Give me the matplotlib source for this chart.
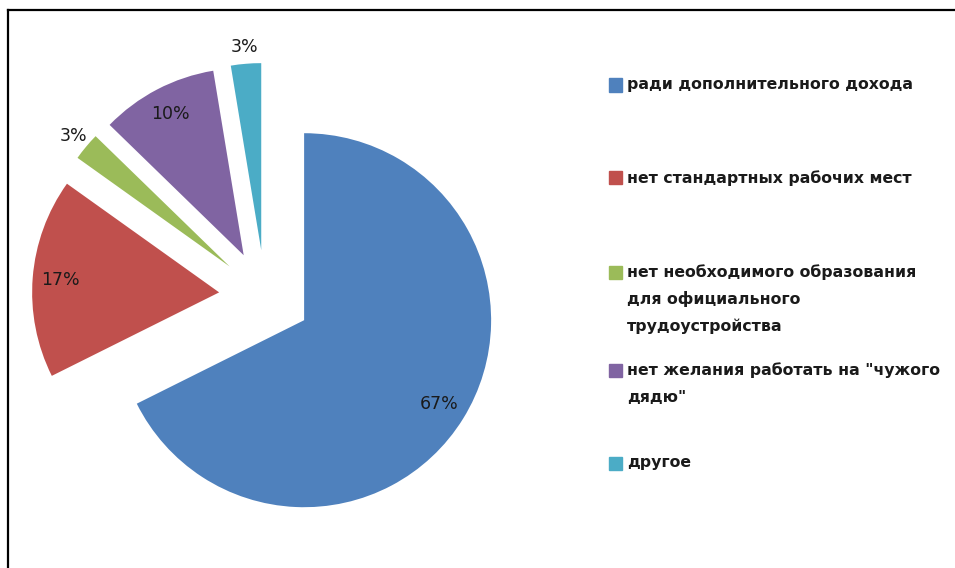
import numpy as np
import matplotlib
matplotlib.use("Agg")
import matplotlib.pyplot as plt
from matplotlib.patches import Rectangle
from matplotlib.lines import Line2D

# доли (оценка по углам секторов)
categories = [
    "ради дополнительного дохода",
    "нет стандартных рабочих мест",
    "нет необходимого образования\nдля официального\nтрудоустройства",
    "нет желания работать на \"чужого\nдядю\"",
    "другое",
]
values = [67.5, 17.2, 2.4, 10.1, 2.6]
pct_labels = ["67%", "17%", "3%", "10%", "3%"]
colors = ["#4F81BD", "#C0504D", "#9BBB59", "#8064A2", "#4BACC6"]

W, H = 955, 568
fig = plt.figure(figsize=(W / 100, H / 100), dpi=100)
ax = fig.add_axes([0, 0, 1, 1])

# радиус, центр и вынос секторов в пикселях
R = 187
cx, cy = 265, H - 296
wedges, _ = ax.pie(values, colors=colors, startangle=90, counterclock=False,
                   explode=[46] * len(values), radius=R, center=(cx, cy),
                   wedgeprops=dict(linewidth=0))
ax.set_xlim(0, W)
ax.set_ylim(0, H)
ax.set_aspect("equal")
ax.axis("off")

# подписи процентов: крупные внутри, мелкие снаружи
for w, lab, v in zip(wedges, pct_labels, values):
    mid = np.deg2rad((w.theta1 + w.theta2) / 2)
    d = 0.85 if v > 5 else 1.09
    x = w.center[0] + R * d * np.cos(mid)
    y = w.center[1] + R * d * np.sin(mid)
    ax.text(x, y, lab, ha="center", va="center", fontsize=12.5,
            family="DejaVu Sans", color="#1a1a1a")

# легенда вручную (как в Excel: маркер у первой строки)
entry_y = [85, 178, 272, 370, 463]
line_gap = 27
for lab, c, y0 in zip(categories, colors, entry_y):
    fig.patches.append(Rectangle((609 / W, 1 - (y0 + 6.5) / H), 13 / W, 13 / H,
                                 transform=fig.transFigure, color=c))
    for i, line in enumerate(lab.split("\n")):
        fig.text(627 / W, 1 - (y0 + i * line_gap) / H, line, ha="left", va="center",
                 fontsize=11.3, weight="bold", family="DejaVu Sans", color="#1a1a1a")

# рамка слева и сверху
fig.lines.append(Line2D([7.5 / W, 7.5 / W], [0, 1 - 9.5 / H], transform=fig.transFigure,
                        color="black", lw=1.6))
fig.lines.append(Line2D([7.5 / W, 1], [1 - 9.5 / H, 1 - 9.5 / H], transform=fig.transFigure,
                        color="black", lw=1.6))

fig.savefig("out.png", dpi=100)
